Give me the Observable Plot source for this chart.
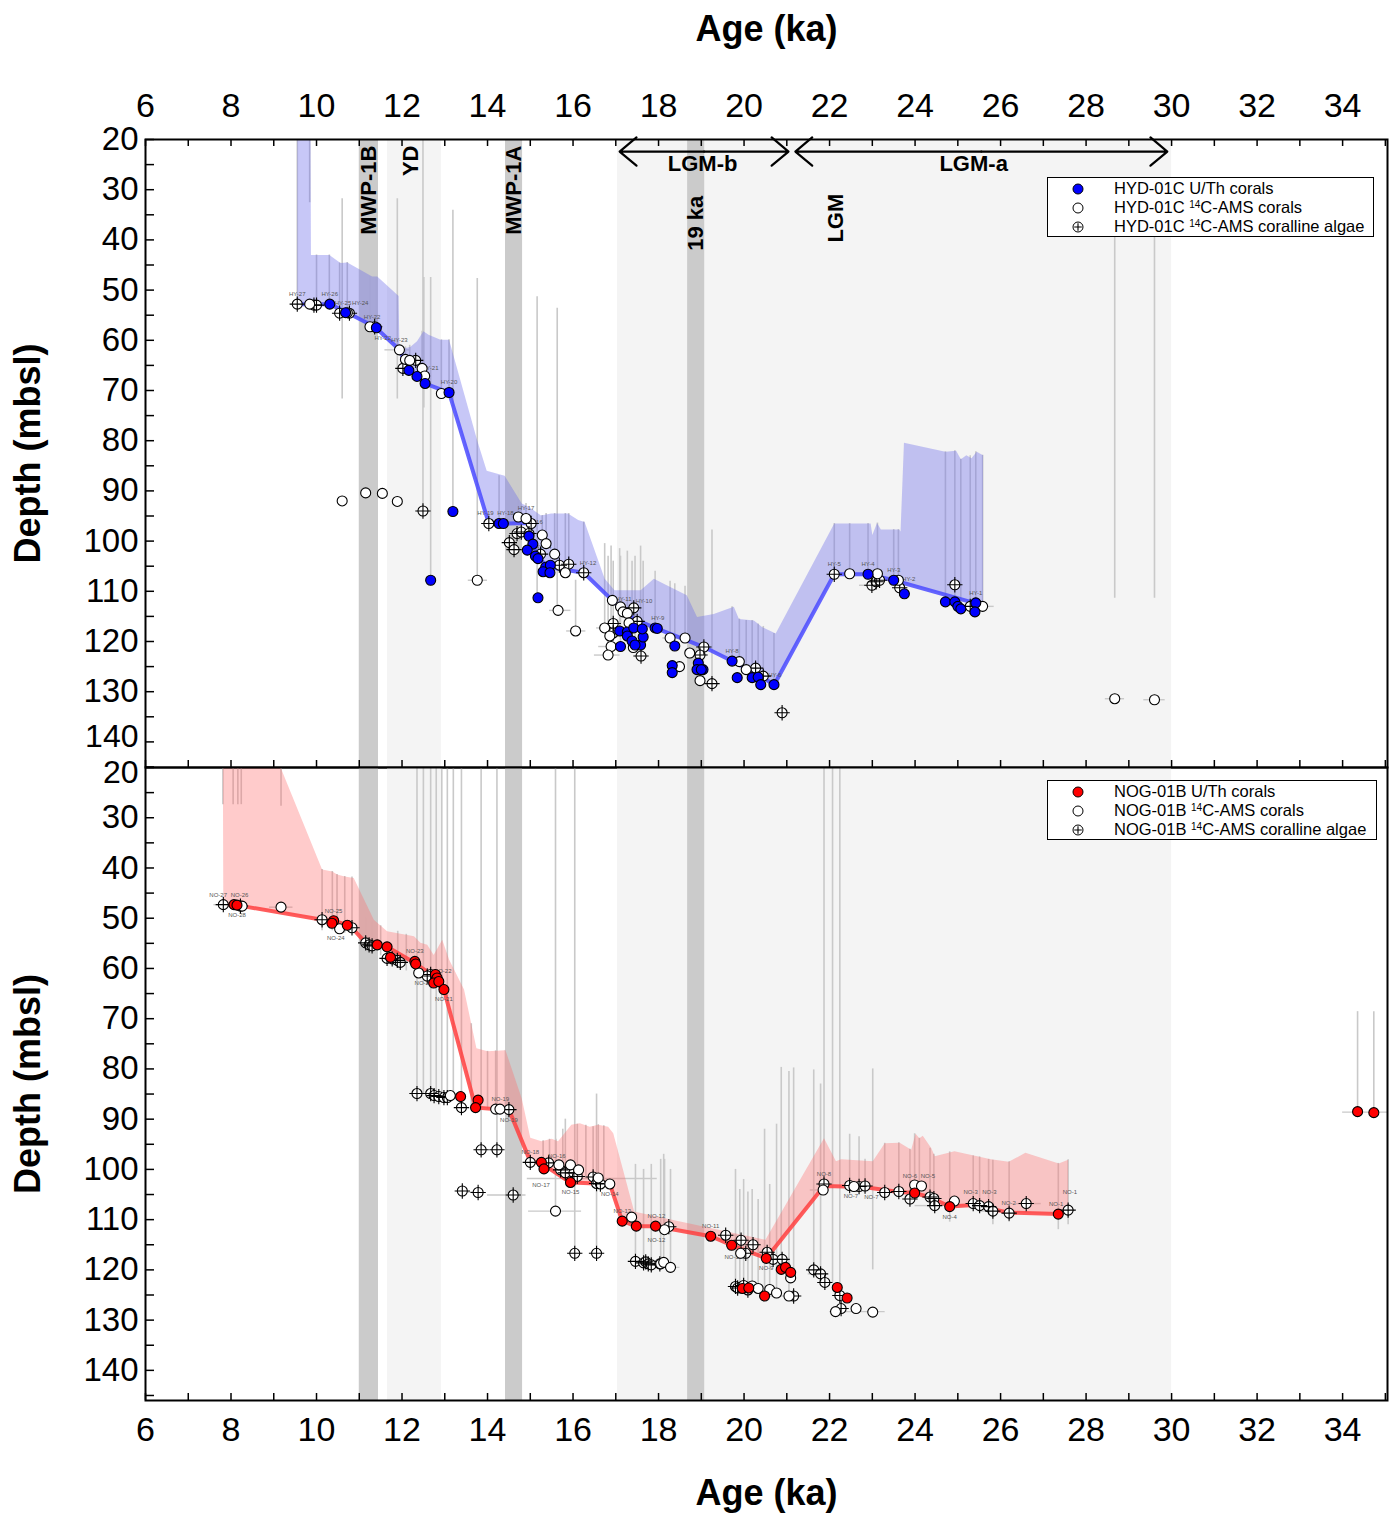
<!DOCTYPE html>
<html><head><meta charset="utf-8">
<script src="https://cdn.jsdelivr.net/npm/d3@7"></script>
<script src="https://cdn.jsdelivr.net/npm/@observablehq/plot@0.6"></script>
<style>
body{margin:0;background:#fff;font-family:"Liberation Sans",Arial,sans-serif}
#wrap{position:relative;width:1394px;height:1518px}
#wrap svg{display:block}
.legend{position:absolute;border:1.2px solid #000;background:#fff;font-size:16.5px;line-height:19px;padding:1px 0 0 0;box-sizing:border-box}
.legend .row{display:flex;align-items:center;height:19px}
.legend .sym{width:60px;display:flex;justify-content:center}
.legend .txt{padding-left:6px;white-space:nowrap}
.legend sup{font-size:10px;vertical-align:5px;line-height:0}
</style>
</head><body><div id="wrap"></div>
<script>
// ---------- shared ----------
const ageTicks = d3.range(6, 35, 2);
const ageMinor = d3.range(6, 36, 1);
const depthTicks = d3.range(20, 141, 10);
const depthMinor = d3.range(20, 146, 5);
const lightBands = [[11.66, 12.92], [17.04, 30.0]];
const darkBands = [[11.0, 11.45], [14.42, 14.82], [18.68, 19.08]];
const eventNames = ["MWP-1B", "YD", "MWP-1A", "19 ka", "LGM"];
const eventAges = [11.22, 12.22, 14.62, 18.87, 22.14];
const eventDepths = [21.2, 21.2, 21.2, 31.2, 30.8];
const periodNames = ["LGM-b", "LGM-a"];
const periodStart = [17.09, 21.2];
const periodEnd = [21.04, 29.9];
const periodLabelAge = [19.03, 25.37];
const periodArrowDepth = [22.4, 22.4];
const periodLabelDepth = [24.8, 24.8];

// ---------- HYD-01C (top) ----------
const hydLine = [[9.55,52.8],[10.31,52.8],[10.72,54.5],[11.36,57.3],[11.94,61.9],[12.16,65.9],[12.35,67.2],[12.53,68.6],[13.1,70.4],[14.03,96.5],[14.37,96.5],[14.97,96.4],[15.0,98.8],[15.16,103.2],[15.44,105.2],[16.25,106.3],[16.92,111.8],[17.42,115.5],[17.89,117.2],[19.06,121.1],[19.72,123.9],[20.39,126.8],[20.7,128.7],[22.11,106.6],[22.9,106.6],[23.5,107.8],[25.42,112.4]];
const hydBandTop = [[9.55,20],[9.86,20],[9.87,43],[10.3,43],[10.56,44.6],[10.72,44.5],[11.3,47.3],[11.42,47.3],[11.92,51.2],[11.94,61.9],[12.2,61.3],[12.35,60.2],[12.5,58.2],[12.62,58.9],[12.9,59.9],[13.1,59.9],[13.76,80],[13.98,86],[14.4,87],[14.8,92.5],[14.97,93.2],[15.25,94.9],[15.49,94.5],[15.88,94.5],[16.12,95.8],[16.27,96.2],[16.74,107.5],[16.97,109.8],[17.58,109.8],[17.89,107.5],[18.19,108.8],[18.66,110.8],[18.9,115.1],[19.29,114.5],[19.76,113.1],[19.88,115.5],[20.23,115.8],[20.42,117.1],[20.74,118.4],[22.11,96.5],[22.96,96.5],[23.0,98.8],[23.11,96.4],[23.2,97.7],[23.63,97.7],[23.66,98.1],[23.74,80.4],[24.71,82.2],[24.96,82],[25.07,83.7],[25.2,82.9],[25.32,83.5],[25.44,82.2],[25.59,82.9],[25.59,112.7]];
const hydUTh = [[10.31,52.8],[10.68,54.5],[11.4,57.5],[12.16,66.0],[12.35,67.2],[12.54,68.6],[13.1,70.4],[13.19,94.1],[12.67,107.8],[14.27,96.5],[14.37,96.5],[14.97,99.0],[15.06,100.6],[14.93,101.8],[15.12,103.0],[15.18,103.5],[15.36,105.2],[15.47,104.8],[15.3,106.1],[15.46,106.3],[15.18,111.3],[17.09,117.9],[17.27,118.1],[17.27,118.9],[17.38,119.9],[17.58,120.7],[17.45,120.7],[17.64,119.1],[17.42,117.3],[17.62,117.5],[17.11,121.0],[17.92,117.3],[17.97,117.4],[18.38,120.9],[18.93,124.3],[18.32,124.8],[18.32,126.2],[18.9,125.6],[19.04,125.6],[19.0,125.6],[19.72,123.9],[19.84,127.2],[20.19,127.2],[20.33,127.1],[20.39,128.6],[20.7,128.6],[22.9,106.6],[23.5,107.8],[23.75,110.5],[24.71,112.1],[24.93,112.1],[25.0,113],[25.07,113.5],[25.42,112.3],[25.4,114.1]];
const hydAMS = [[9.84,52.8],[10.72,54.5],[11.25,57.3],[11.94,61.9],[12.08,63.8],[12.18,64.0],[12.47,65.6],[12.53,67.1],[12.92,70.6],[10.6,92.0],[11.15,90.4],[11.54,90.5],[11.89,92.1],[13.76,107.8],[14.72,95.2],[14.9,95.5],[15.28,98.8],[15.37,100.5],[15.57,102.6],[15.82,106.3],[15.65,113.8],[16.06,117.9],[16.92,111.8],[17.11,113.1],[17.17,114.1],[17.27,114.4],[17.31,116.3],[16.74,117.3],[16.86,118.9],[17.41,121.2],[16.89,121.0],[16.82,122.7],[18.27,119.3],[18.62,119.3],[18.73,122.3],[18.49,125.0],[18.97,127.8],[19.89,124.0],[20.05,125.6],[22.47,106.5],[23.12,106.5],[23.61,107.8],[25.58,113.0],[28.67,131.4],[29.6,131.6]];
const hydAlgae = [[9.55,52.8],[9.94,53.0],[10.0,53.0],[10.54,54.6],[10.77,54.6],[11.36,57.3],[12.02,65.6],[12.32,64.0],[12.49,94.0],[14.03,96.5],[15.02,96.5],[14.69,98.5],[14.79,98.2],[14.97,98.5],[14.51,100.3],[14.62,101.7],[15.24,102.6],[15.68,104.8],[15.9,104.6],[16.25,106.3],[17.42,113.3],[16.94,116.4],[16.94,118.3],[17.5,116.0],[17.59,122.9],[19.06,121.1],[18.97,122.7],[19.25,128.4],[20.27,125.3],[20.45,126.9],[20.89,134.2],[22.11,106.6],[22.99,108.8],[23.09,108.1],[23.17,107.8],[23.64,109.3],[24.93,108.7],[25.29,113.0]];
const hydRanges = [[9.55,20,52.8],[9.84,20,32.6],[10.0,43,53],[10.3,43,52.8],[10.54,44.6,54.6],[10.6,31.8,71.7],[10.72,44.5,54.5],[11.25,47.3,57.3],[11.4,47.3,57.5],[11.89,31.8,71.7],[12.49,20,94.0],[12.51,47.5,73.5],[12.67,47.5,107.8],[13.76,47.7,107.8],[13.19,34.1,94.1],[12.08,61.3,63.8],[12.18,61,64],[12.47,58.2,65.6],[12.92,59.9,70.6],[13.1,59.9,70.4],[14.27,87,96.5],[14.72,90,95.2],[14.9,92.5,95.5],[15.28,94.9,98.8],[15.37,94.5,100.5],[15.57,94.5,102.6],[15.82,94.5,106.3],[15.9,94.5,104.6],[16.25,96.2,106.3],[15.16,51.3,111.3],[15.63,53.6,113.8],[16.06,107.8,117.9],[16.74,100.5,117.3],[16.82,103,122.7],[16.89,101,121],[16.94,104,118.3],[17.09,101.5,117.9],[17.11,103,121],[17.27,102,118.9],[17.38,104,119.9],[17.45,103,120.7],[17.58,101,120.7],[17.64,104,119.1],[17.92,106,117.3],[18.27,108,119.3],[18.38,108.5,120.9],[18.62,109,119.3],[19.25,97.8,128.4],[19.72,113.1,123.9],[19.89,115.5,124],[20.05,115.8,125.6],[20.19,115.8,127.2],[20.33,116.5,127.1],[20.45,117,126.9],[20.7,118.4,128.6],[22.11,96.5,106.6],[22.47,96.5,106.5],[22.9,96.5,106.6],[23.12,96.4,106.5],[23.5,97.7,107.8],[23.61,97.7,107.8],[24.71,82.2,112.1],[24.93,82,112.1],[25.07,83.7,113.5],[25.29,83,113],[25.42,82.2,112.3],[25.58,82.9,113],[28.67,31.6,111.4],[29.6,31.6,111.4]];
const hydHBars = [[11.6,12.2,61.9],[13.55,14.0,107.8],[15.45,15.95,113.8],[15.85,16.3,117.9],[16.5,17.1,122.7],[16.6,17.2,121.0],[16.55,17.0,117.3],[18.1,18.5,119.3],[25.3,25.85,113.0],[28.45,28.9,131.4],[29.35,29.85,131.6],[22.7,23.1,108.8]];
const hydLabelsAbove = [["HY-27",9.55,52.8],["HY-26",10.31,52.8],["HY-25",10.62,54.5],["HY-24",11.02,54.5],["HY-22",11.3,57.3],["HY-23",11.94,61.9],["HY-21",12.66,67.6],["HY-20",13.1,70.4],["HY-19",13.95,96.5],["HY-18",14.42,96.5],["HY-17",14.9,95.5],["HY-16",15.1,98.2],["HY-14",15.3,103.2],["HY-12",16.35,106.3],["HY-11",17.18,113.6],["HY-10",17.66,114.0],["HY-9",17.98,117.3],["HY-8",19.72,123.9],["HY-6",20.72,128.6],["HY-5",22.11,106.6],["HY-4",22.9,106.6],["HY-3",23.5,107.8],["HY-2",23.85,109.5],["HY-1",25.42,112.3]];
const hydLabelsBelow = [["HY-22",11.55,57.5]];

// ---------- NOG-01B (bottom) ----------
const nogLine = [[7.82,47.3],[8.07,47.3],[10.13,50.3],[10.4,50.5],[10.72,51.4],[10.83,51.9],[11.15,54.9],[11.65,55.7],[12.3,58.9],[12.67,61.2],[12.78,62.9],[12.98,64.2],[13.72,87.7],[14.3,88.1],[14.5,88.1],[15.0,98.4],[15.26,98.8],[15.94,102.6],[16.86,102.9],[17.15,110.3],[17.48,111.3],[17.93,111.3],[19.22,113.3],[19.71,115.1],[20.52,117.7],[21.87,103.3],[22.8,103.5],[23.62,104.5],[23.99,104.7],[24.36,105.6],[24.81,107.4],[25.38,107.1],[25.77,107.8],[26.19,108.6],[27.35,108.9],[27.58,108.2]];
const nogBandTop = [[7.81,20],[9.16,20],[10.13,40.3],[10.37,40.7],[10.48,41.3],[10.66,41.7],[10.87,42.0],[11.34,50.3],[11.65,52.6],[12.28,53.6],[12.43,54.9],[12.59,55.3],[12.74,57.3],[12.94,54.3],[13.1,58.2],[13.45,64.2],[13.74,75.9],[14.0,76.5],[14.42,76.3],[14.8,85.9],[15.0,93.7],[15.26,94.4],[15.5,93.9],[15.65,94.4],[15.96,91.1],[16.16,90.8],[16.39,91.5],[16.59,91.1],[16.82,91.5],[16.94,92.8],[17.43,108.4],[17.74,109.0],[20.5,114.0],[21.87,93.8],[22.15,98.4],[22.27,98.0],[23.01,98.4],[23.29,94.8],[23.64,94.7],[23.91,96.1],[24.01,92.9],[24.1,93.8],[24.18,93.3],[24.38,95.8],[24.46,97.4],[24.92,96.4],[25.77,98.0],[26.19,98.5],[26.58,96.7],[27.36,98.8],[27.58,98.1],[27.58,108.2]];
const nogUTh = [[8.07,47.3],[8.14,47.4],[10.4,50.5],[10.36,51.0],[10.72,51.4],[11.42,55.3],[11.65,55.7],[11.73,57.8],[12.3,58.6],[12.32,59.1],[12.78,61.2],[12.82,61.9],[12.74,62.9],[12.86,62.6],[12.98,64.2],[13.37,85.5],[13.78,86.2],[13.72,87.7],[15.26,98.6],[15.32,99.9],[15.94,102.6],[17.15,110.3],[17.48,111.3],[17.93,111.3],[19.22,113.3],[19.71,115.1],[20.52,117.7],[20.87,119.9],[20.97,119.5],[21.09,120.5],[19.96,123.7],[20.11,123.6],[20.48,125.2],[22.18,123.5],[22.41,125.6],[23.99,104.7],[24.81,107.4],[27.35,108.9],[34.35,88.5],[34.73,88.7]];
const nogAMS = [[8.26,47.6],[9.17,47.8],[10.54,52.1],[12.39,60.9],[13.13,85.3],[14.19,88.0],[14.29,88.0],[15.67,99.1],[15.94,99.1],[16.13,100.1],[16.59,101.7],[16.86,102.9],[15.59,108.3],[17.37,109.5],[18.14,112.0],[18.05,118.8],[18.12,118.5],[18.28,119.5],[19.92,116.7],[21.09,121.6],[21.05,125.2],[20.19,123.2],[20.33,123.7],[20.6,123.9],[20.76,124.6],[21.85,104.1],[22.57,103.4],[22.14,128.3],[22.62,127.7],[23.01,128.4],[23.99,103.1],[24.15,103.3],[24.92,106.3]];
const nogAlgae = [[7.82,47.3],[8.22,47.6],[10.13,50.3],[10.83,51.9],[11.15,54.9],[11.23,55.3],[11.3,55.5],[11.65,58.0],[11.77,58.1],[11.89,58.4],[11.96,58.8],[12.67,61.2],[12.59,61.5],[12.35,84.9],[12.67,84.9],[12.75,85.3],[12.86,85.5],[12.98,85.7],[13.06,85.7],[13.39,87.7],[14.5,88.1],[13.85,96.1],[14.22,96.1],[13.41,104.3],[13.78,104.6],[14.6,105.1],[15.0,98.6],[15.43,98.7],[15.71,100.1],[15.82,100.7],[16.02,100.7],[16.1,101.4],[16.47,101.5],[16.55,102.8],[16.64,102.9],[16.04,116.7],[16.55,116.7],[18.24,111.4],[17.46,118.3],[17.65,118.6],[17.7,118.4],[17.76,118.8],[17.83,119.0],[18.03,118.8],[19.57,113.1],[19.93,114.1],[20.21,115.0],[20.04,116.7],[20.54,116.5],[20.68,117.9],[20.89,117.9],[21.16,125.2],[19.8,123.3],[19.85,123.6],[19.99,123.1],[20.09,124.0],[21.63,120.0],[21.79,120.8],[21.89,122.5],[22.24,125.1],[22.27,127.7],[21.87,102.9],[22.47,103.2],[22.69,103.4],[22.83,103.3],[23.29,104.6],[23.62,104.4],[23.88,105.9],[24.35,105.5],[24.44,105.8],[24.46,107.2],[25.36,106.8],[25.51,107.2],[25.72,107.4],[25.82,108.3],[26.2,108.7],[26.6,106.8],[27.58,108.1]];
const nogRanges = [[7.81,20,27.4],[8.05,20,27.4],[8.16,20,27.4],[8.24,20,27.4],[9.17,20,27.7],[10.13,40.3,52.5],[10.37,40.7,52.5],[10.48,41.3,53],[10.66,41.7,53],[10.83,41.8,53],[11.15,50,56],[11.3,50.8,57],[11.5,51.5,57.5],[11.9,52.6,60],[12.1,53.2,60.5],[12.35,20,84.9],[12.5,20,85.0],[12.67,20,84.9],[12.8,20,85.3],[12.93,20,85.5],[13.06,20,85.7],[13.2,20,85.5],[13.39,20,87.7],[13.85,20,96.1],[14.22,20,96.1],[13.62,71,88],[14.0,76.5,88],[14.19,76.4,88.0],[14.42,76.3,88.1],[15.3,94.3,100],[15.45,94,100],[15.6,94,99],[15.76,92,101],[15.82,90,100.7],[16.1,91,101.4],[16.3,91.2,101.6],[16.47,91.5,101.5],[16.59,91.1,101.7],[16.72,91.3,103],[15.59,20,108.3],[16.04,20,116.7],[16.55,85,116.7],[17.46,99,118.3],[17.65,100,118.6],[17.83,99,119.0],[18.05,98,118.8],[18.12,97,118.5],[18.28,100,119.5],[18.14,98,112.0],[19.8,100,123.3],[19.9,104,123.6],[19.99,102,123.1],[20.09,104.5,124.0],[20.19,104,123.2],[20.33,106,123.7],[20.48,92,125.2],[20.6,103,123.9],[20.76,91,124.6],[20.87,79.7,119.9],[21.05,80.5,125.2],[21.16,79.8,121],[21.63,80.2,120.0],[21.79,83,120.8],[21.87,20,104.1],[22.07,20,122.5],[22.24,20,125.1],[22.47,93,103.2],[22.69,93.5,103.4],[22.83,98,103.3],[23.01,80,120],[23.29,94.8,104.6],[23.62,94.7,104.4],[23.88,96,105.9],[23.99,92.9,104.7],[24.1,93.8,103.2],[24.35,95.8,105.5],[24.44,97,105.8],[24.81,96.5,110.5],[25.36,97.3,106.8],[25.51,97.5,107.2],[25.72,98,107.4],[25.82,98.2,111],[26.2,98.5,110.5],[27.35,98.8,112],[27.58,98.1,111],[34.35,68.6,88.5],[34.73,68.6,88.7]];
const nogHBars = [[7.6,8.0,47.3],[8.9,9.45,47.8],[14.93,17.97,101.8],[14.96,16.2,108.3],[14.0,14.9,105.1],[17.6,18.5,119.5],[19.4,19.85,113.1],[20.45,21.2,125.2],[21.55,22.0,104.1],[21.5,21.95,120.8],[22.0,23.3,128.3],[24.0,24.6,107.2],[25.5,26.0,108.3],[26.35,26.95,106.8],[34.0,35.05,88.6],[13.3,13.8,104.5]];
const nogLabelsAbove = [["NO-27",7.7,47.3],["NO-26",8.2,47.4],["NO-25",10.4,50.5],["NO-23",12.3,58.6],["NO-22",12.95,62.6],["NO-19",14.3,88.0],["NO-18",15.0,98.6],["NO-16",15.62,99.4],["NO-13",17.15,110.3],["NO-12",17.95,111.3],["NO-11",19.22,113.3],["NO-8",21.87,102.9],["NO-6",23.88,103.3],["NO-5",24.3,103.3],["NO-3",25.3,106.5],["NO-3",25.74,106.5],["NO-2",26.19,108.6],["NO-1",27.3,108.9],["NO-1",27.62,106.6]];
const nogLabelsBelow = [["NO-28",8.14,47.4],["NO-24",10.45,52.0],["NO-20",12.5,61.0],["NO-21",12.98,64.2],["NO-19",14.5,88.1],["NO-17",15.25,101.2],["NO-15",15.94,102.6],["NO-14",16.86,102.9],["NO-12",17.95,112.0],["NO-10",19.75,115.5],["NO-9",20.52,117.7],["NO-7",22.5,103.4],["NO-7",22.98,103.6],["NO-4",24.81,107.4]];

const hydLegend = ["HYD-01C U/Th corals", "HYD-01C <sup>14</sup>C-AMS corals", "HYD-01C <sup>14</sup>C-AMS coralline algae"];
const nogLegend = ["NOG-01B U/Th corals", "NOG-01B <sup>14</sup>C-AMS corals", "NOG-01B <sup>14</sup>C-AMS coralline algae"];

// ---------- helpers ----------
const pts = a => a.map(([age, depth]) => ({age, depth}));
const rng = a => a.map(([age, top, bottom]) => ({age, top, bottom}));
const hb = a => a.map(([a1, a2, depth]) => ({a1, a2, depth}));
const lab = a => a.map(([name, age, depth]) => ({name, age, depth}));
const FONT = "Liberation Sans, Arial, Helvetica, sans-serif";
const W = 1394, ML = 145, MR = 7;

function panel(o) {
  const frameH = o.height - o.marginTop - o.marginBottom;
  const frameW = W - ML - MR;
  const poly = pts(o.bandTop.concat(o.line.slice().reverse()));
  // the first/last depth label sits next to the other panel's label: nudge it slightly away
  const edgeTick = o.top ? 140 : 20;
  const marks = [
    Plot.rect(lightBands.map(([s, e]) => ({s, e})), {x1: "s", x2: "e", fill: "#f4f4f4"}),
    Plot.rect(darkBands.map(([s, e]) => ({s, e})), {x1: "s", x2: "e", fill: "#cbcbcb"}),
    Plot.ruleX(rng(o.ranges), {x: "age", y1: "top", y2: "bottom", stroke: "#c9c9c9", strokeWidth: 1.6, clip: true}),
    Plot.ruleY(hb(o.hbars), {x1: "a1", x2: "a2", y: "depth", stroke: "#c9c9c9", strokeWidth: 1.4, clip: true}),
    Plot.line(poly, {x: "age", y: "depth", fill: o.bandColor, fillOpacity: o.bandOpacity, stroke: "none", curve: "linear", clip: true}),
    Plot.line(pts(o.line), {x: "age", y: "depth", stroke: o.lineColor, strokeWidth: 4, strokeOpacity: 0.85}),
    Plot.text(lab(o.labelsAbove), {x: "age", y: "depth", text: "name", dy: -10, fontSize: 6, fill: "#555"}),
    Plot.text(lab(o.labelsBelow || []), {x: "age", y: "depth", text: "name", dy: 10, fontSize: 6, fill: "#555"}),
    Plot.dot(pts(o.algae), {x: "age", y: "depth", r: 5, fill: "white", stroke: "black", strokeWidth: 1.1}),
    Plot.dot(pts(o.algae), {x: "age", y: "depth", r: 5, symbol: "plus", stroke: "black", strokeWidth: 1.1}),
    Plot.dot(pts(o.ams), {x: "age", y: "depth", r: 5, fill: "white", stroke: "black", strokeWidth: 1.1}),
    Plot.dot(pts(o.uth), {x: "age", y: "depth", r: 5, fill: o.dotColor, stroke: "black", strokeWidth: 1.1}),
    // inward ticks
    Plot.ruleY(depthMinor.filter(d => d <= o.yDomain[1]), {y: d => d, insetRight: frameW - 9, stroke: "black", strokeWidth: 1.5}),
    Plot.ruleX(ageMinor, {x: d => d, insetTop: frameH - 7, stroke: "black", strokeWidth: 1.5}),
    Plot.axisY({ticks: depthTicks.filter(d => d !== edgeTick), tickSize: 0, tickPadding: 7, fontSize: 33, label: null, tickFormat: d3.format("d")}),
    Plot.axisY({ticks: [edgeTick], tickSize: 0, tickPadding: 7, fontSize: 32, label: null, dy: o.top ? -5 : 5, tickFormat: d3.format("d")}),
    Plot.text(["Depth (mbsl)"], {frameAnchor: "left", dx: -117, rotate: -90, textAnchor: "middle", lineAnchor: "middle", fontSize: 36, fontWeight: "bold"}),
    Plot.frame({stroke: "black", strokeWidth: 2})
  ];
  if (o.top) {
    const ev = eventNames.map((n, i) => ({n, a: eventAges[i], d: eventDepths[i]}));
    const per = periodNames.map((n, i) => ({n, s: periodStart[i], e: periodEnd[i], m: periodLabelAge[i], d: periodArrowDepth[i], ld: periodLabelDepth[i]}));
    marks.push(
      Plot.text(ev, {x: "a", y: "d", text: "n", rotate: -90, textAnchor: "end", lineAnchor: "middle", fontSize: 22, fontWeight: "bold"}),
      Plot.arrow(per, {x1: d => (d.s + d.e) / 2, x2: "e", y1: "d", y2: "d", stroke: "black", strokeWidth: 2.2, headLength: 15, headAngle: 80, insetEnd: 0}),
      Plot.arrow(per, {x1: d => (d.s + d.e) / 2, x2: "s", y1: "d", y2: "d", stroke: "black", strokeWidth: 2.2, headLength: 15, headAngle: 80, insetEnd: 0}),
      Plot.text(per, {x: "m", y: "ld", text: "n", fontSize: 22, fontWeight: "bold"}),
      Plot.ruleX(ageMinor, {x: d => d, insetBottom: frameH - 7, stroke: "black", strokeWidth: 1.5}),
      Plot.axisX({anchor: "top", ticks: ageTicks, tickSize: 0, tickPadding: 23, fontSize: 34, label: null, tickFormat: d3.format("d")}),
      Plot.text(["Age (ka)"], {frameAnchor: "top", dy: -110, lineAnchor: "middle", fontSize: 36, fontWeight: "bold"})
    );
  } else {
    marks.push(
      Plot.axisX({anchor: "bottom", ticks: ageTicks, tickSize: 0, tickPadding: 16, fontSize: 34, label: null, tickFormat: d3.format("d")}),
      Plot.text(["Age (ka)"], {frameAnchor: "bottom", dy: 93, lineAnchor: "middle", fontSize: 36, fontWeight: "bold"})
    );
  }
  return Plot.plot({
    width: W, height: o.height, marginTop: o.marginTop, marginBottom: o.marginBottom, marginLeft: ML, marginRight: MR,
    x: {domain: [6, 35.05]},
    y: {domain: o.yDomain, reverse: true},
    style: {fontFamily: FONT, background: "transparent", overflow: "visible", color: "black"},
    marks
  });
}

const wrap = document.getElementById("wrap");
wrap.appendChild(panel({
  top: true, height: 767, marginTop: 139, marginBottom: 0, yDomain: [20, 145.1],
  line: hydLine, bandTop: hydBandTop, uth: hydUTh, ams: hydAMS, algae: hydAlgae,
  ranges: hydRanges, hbars: hydHBars, labelsAbove: hydLabelsAbove, labelsBelow: hydLabelsBelow,
  bandColor: "#6b6bea", bandOpacity: 0.38, lineColor: "#4a4aff", dotColor: "#0000ff"
}));
wrap.appendChild(panel({
  top: false, height: 751, marginTop: 0, marginBottom: 118, yDomain: [20, 146],
  line: nogLine, bandTop: nogBandTop, uth: nogUTh, ams: nogAMS, algae: nogAlgae,
  ranges: nogRanges, hbars: nogHBars, labelsAbove: nogLabelsAbove, labelsBelow: nogLabelsBelow,
  bandColor: "#ff6a6a", bandOpacity: 0.35, lineColor: "#ff4040", dotColor: "#ff0000"
}));

function legend(left, top, width, items, color) {
  const div = document.createElement("div");
  div.className = "legend";
  Object.assign(div.style, {left: left + "px", top: top + "px", width: width + "px", height: "60px"});
  const syms = [
    `<svg width="12" height="12"><circle cx="6" cy="6" r="5" fill="${color}" stroke="black" stroke-width="1"/></svg>`,
    `<svg width="12" height="12"><circle cx="6" cy="6" r="5" fill="white" stroke="black" stroke-width="1"/></svg>`,
    `<svg width="12" height="12"><circle cx="6" cy="6" r="5" fill="white" stroke="black" stroke-width="1"/><path d="M6,2.2V9.8M2.2,6H9.8" stroke="black" stroke-width="1.1"/></svg>`
  ];
  div.innerHTML = items.map((t, i) => `<div class="row"><span class="sym">${syms[i]}</span><span class="txt">${t}</span></div>`).join("");
  wrap.appendChild(div);
}
legend(1047, 177, 327, hydLegend, "#0000ff");
legend(1047, 780, 330, nogLegend, "#ff0000");
</script></body></html>
